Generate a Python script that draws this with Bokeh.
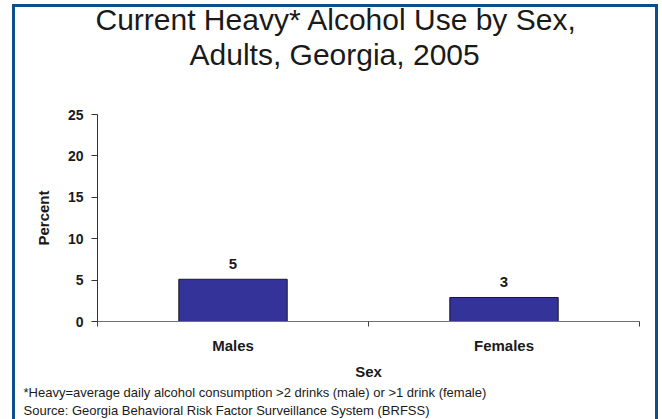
from bokeh.plotting import figure
from bokeh.models import (Range1d, LinearAxis, FixedTicker, LabelSet, Title,
                          ColumnDataSource, InlineStyleSheet)
from bokeh.core.properties import value
from bokeh.embed import file_html
from bokeh.resources import INLINE

# ---- data ----
sexes = ["Males", "Females"]
percents = [5.1, 2.9]
value_labels = ["5", "3"]
y_ticks = [0, 5, 10, 15, 20, 25]
title_lines = ["Current Heavy* Alcohol Use by Sex,", "Adults, Georgia, 2005"]
notes = ["*Heavy=average daily alcohol consumption >2 drinks (male) or >1 drink (female)",
         "Source: Georgia Behavioral Risk Factor Surveillance System (BRFSS)"]
x_title = "Sex"
y_title = "Percent"

W, H = 662, 419
FL, FR, FT, FB = 97, 639, 114, 321   # frame edges (page pixels)
FONT = "Liberation Sans"
TXT = "#1a1a1a"

p = figure(width=W, height=H, output_backend="svg", toolbar_location=None,
           x_range=Range1d(0, len(sexes)), y_range=Range1d(0, y_ticks[-1]),
           min_border_left=FL, min_border_right=W - FR, min_border_top=FT,
           min_border_bottom=H - FB, x_axis_type=None, y_axis_type=None)
p.grid.visible = False
p.outline_line_color = None
p.background_fill_color = "white"
p.border_fill_color = "white"

xs = [i + 0.5 for i in range(len(sexes))]
src = ColumnDataSource(dict(x=xs, top=percents, lab=value_labels))
p.vbar(x="x", top="top", width=0.4, source=src, fill_color="#333399",
       line_color="#1a1a1a", line_width=1)

p.add_layout(LabelSet(x="x", y="top", text="lab", source=src, y_offset=10,
                      text_align="center", text_baseline="alphabetic",
                      text_font=value(FONT), text_font_style="bold",
                      text_font_size="15px", text_color=TXT))

xaxis = LinearAxis(ticker=FixedTicker(ticks=xs, minor_ticks=list(range(len(sexes) + 1))),
                   major_label_overrides={x: s for x, s in zip(xs, sexes)},
                   axis_label=x_title)
xaxis.major_tick_out = 0
xaxis.major_tick_in = 0
xaxis.minor_tick_out = 5
xaxis.minor_tick_in = 0
xaxis.minor_tick_line_color = "#404040"
xaxis.axis_line_color = "#707070"
xaxis.major_label_standoff = 10
xaxis.major_label_text_font = FONT
xaxis.major_label_text_font_style = "bold"
xaxis.major_label_text_font_size = "15px"
xaxis.major_label_text_color = TXT
xaxis.axis_label_standoff = 6
xaxis.axis_label_text_font = FONT
xaxis.axis_label_text_font_style = "bold"
xaxis.axis_label_text_font_size = "15px"
xaxis.axis_label_text_color = TXT
p.add_layout(xaxis, "below")

yaxis = LinearAxis(ticker=FixedTicker(ticks=y_ticks, minor_ticks=[]), axis_label=y_title)
yaxis.major_tick_out = 6
yaxis.major_tick_in = 0
yaxis.major_tick_line_color = "#333333"
yaxis.axis_line_color = "#333333"
yaxis.major_label_standoff = 8
yaxis.major_label_text_font = FONT
yaxis.major_label_text_font_style = "bold"
yaxis.major_label_text_font_size = "14px"
yaxis.major_label_text_color = TXT
yaxis.axis_label_standoff = 13
yaxis.axis_label_text_font = FONT
yaxis.axis_label_text_font_style = "bold"
yaxis.axis_label_text_font_size = "15px"
yaxis.axis_label_text_color = TXT
p.add_layout(yaxis, "left")

# spacer between the frame and the title block
p.add_layout(Title(text=" ", text_font_size="1px", standoff=41), "above")
# title lines: later-added titles sit farther from the frame
for txt, off in zip(reversed(title_lines), [92, -2]):
    p.add_layout(Title(text=txt, align="left", offset=off, text_font=FONT,
                       text_font_style="normal", text_font_size="30px",
                       text_color=TXT, standoff=0), "above")

for txt, so in zip(notes, [1, 0]):
    p.add_layout(Title(text=txt, align="left", offset=23 - FL, text_font=FONT,
                       text_font_style="normal", text_font_size="13px",
                       text_color=TXT, standoff=so), "below")

# blue frame around the whole chart (top, left, right)
p.stylesheets = [InlineStyleSheet(css="""
:host::after {
  content: "";
  position: absolute;
  left: 12px; top: 4px; width: 646px; height: 415px;
  box-sizing: border-box;
  border: 3.5px solid #0d4e8b;
  border-bottom: none;
  pointer-events: none;
}
""")]

open("out.html", "w").write(file_html(p, INLINE))
